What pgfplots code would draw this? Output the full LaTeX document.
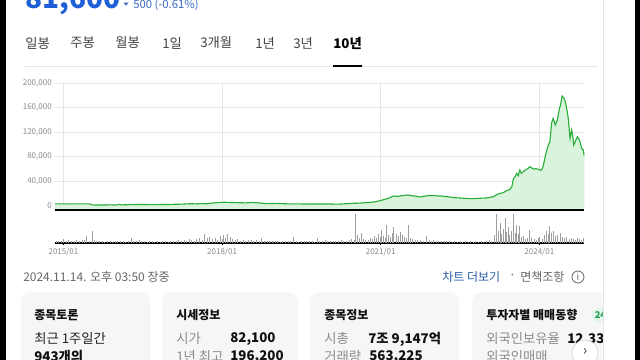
\documentclass[border=0pt]{standalone}
\usepackage{fontspec}
\setmainfont{Noto Sans CJK KR}
\usepackage{pgfplots}
\usepackage{pgfplotstable}
\pgfplotsset{compat=1.18}
\definecolor{numblue}{HTML}{1E5FD8}
\definecolor{chgblue}{HTML}{3B6BC4}
\definecolor{tabgray}{HTML}{444444}
\definecolor{linegreen}{HTML}{2AAE3A}
\definecolor{fillgreen}{HTML}{DAF3DC}
\definecolor{gridgray}{HTML}{E6E6E6}
\definecolor{tickgray}{HTML}{8A8A8A}
\definecolor{volgray}{HTML}{9E9E9E}
\definecolor{baseline}{HTML}{888888}
\definecolor{cardbg}{HTML}{F5F6F8}
\definecolor{dategray}{HTML}{666666}
\definecolor{linkblue}{HTML}{2B5DA6}
\definecolor{labgray}{HTML}{8C8C8C}
\definecolor{dark}{HTML}{111111}
\definecolor{dark2}{HTML}{222222}
\definecolor{badgebg}{HTML}{E2F5E7}
\definecolor{badgefg}{HTML}{1E9E4A}
\definecolor{btnborder}{HTML}{DDDDDD}
\newcommand\fs[1]{\fontsize{#1pt}{#1pt}\selectfont}

\pgfplotstableread{
t v
2014.84 3000
2014.95 3100
2015.10 2900
2015.25 3000
2015.40 3100
2015.50 2900
2015.54 1300
2015.70 1200
2015.90 1300
2016.00 1200
2016.05 1900
2016.10 1400
2016.25 1700
2016.45 2000
2016.65 1800
2016.90 1900
2017.10 2300
2017.25 2600
2017.40 3300
2017.50 3000
2017.60 3500
2017.70 3200
2017.80 4200
2017.95 5400
2018.05 5600
2018.20 5200
2018.35 4900
2018.45 4600
2018.55 5300
2018.65 4800
2018.75 4100
2018.85 3400
2018.95 3600
2019.05 3900
2019.15 3300
2019.30 2900
2019.45 3000
2019.60 2700
2019.75 2900
2019.85 2800
2020.00 2900
2020.15 2600
2020.23 2700
2020.35 3300
2020.48 3900
2020.60 4200
2020.70 5000
2020.80 5400
2020.90 6600
2020.99 8200
2021.08 10500
2021.16 12500
2021.24 15800
2021.32 15200
2021.40 16400
2021.52 17500
2021.60 16200
2021.67 15500
2021.74 14200
2021.82 15600
2021.90 16500
2021.99 16900
2022.08 16000
2022.17 15700
2022.25 14700
2022.35 13800
2022.42 13000
2022.50 12600
2022.60 12000
2022.69 11500
2022.80 11800
2022.90 12300
2023.00 12600
2023.06 13500
2023.13 14700
2023.20 18500
2023.26 20200
2023.32 21500
2023.38 24500
2023.44 26500
2023.48 31100
2023.51 44700
2023.54 47000
2023.57 52800
2023.60 49000
2023.63 58300
2023.66 52800
2023.70 56000
2023.73 58300
2023.78 60500
2023.82 63700
2023.86 61500
2023.89 59900
2023.94 60500
2023.98 59400
2024.02 58000
2024.04 58300
2024.07 63700
2024.11 80000
2024.14 90900
2024.17 99100
2024.20 104500
2024.23 134500
2024.26 142600
2024.28 138000
2024.30 131800
2024.34 139900
2024.38 159000
2024.40 164400
2024.43 179100
2024.47 175300
2024.50 167100
2024.53 152000
2024.55 139900
2024.58 110000
2024.61 123600
2024.63 115000
2024.65 99100
2024.69 107300
2024.72 112700
2024.76 107300
2024.80 93700
2024.83 91000
2024.85 81100
}\pricedata

\pgfplotstableread{
t h
2014.86 1.5
2014.91 2
2014.96 1.5
2015.00 4
2015.05 2
2015.10 2.5
2015.15 1.5
2015.20 2
2015.25 3
2015.30 2
2015.35 2.5
2015.40 3
2015.44 7
2015.49 2
2015.54 12
2015.58 3
2015.63 2
2015.68 1.5
2015.73 2
2015.78 1
2015.83 1.5
2015.88 2
2015.93 1
2015.98 1.5
2016.03 2
2016.08 1.5
2016.13 2
2016.18 1
2016.23 2
2016.28 5
2016.33 2
2016.38 1.5
2016.43 2.5
2016.48 2
2016.53 1.5
2016.58 1
2016.63 2
2016.68 1.5
2016.73 1
2016.78 1.5
2016.83 1
2016.88 2
2016.93 1.5
2016.98 1
2017.03 1.5
2017.08 2
2017.13 1.5
2017.18 2.5
2017.23 2
2017.28 3
2017.33 2
2017.38 4
2017.43 3
2017.48 2
2017.52 4
2017.57 5
2017.62 3
2017.67 9
2017.72 5
2017.77 6
2017.82 4
2017.87 5
2017.91 3
2017.96 7
2018.00 4
2018.03 8
2018.07 5
2018.11 9
2018.15 6
2018.20 4
2018.25 3
2018.30 4
2018.35 2
2018.40 3
2018.45 2
2018.50 2.5
2018.55 3
2018.60 2
2018.65 2.5
2018.70 2
2018.75 5
2018.80 2
2018.85 1.5
2018.90 2
2018.95 1.5
2019.00 2
2019.05 1.5
2019.10 1
2019.15 1.5
2019.20 2
2019.25 1.5
2019.30 2
2019.35 6
2019.40 1.5
2019.45 1
2019.50 1.5
2019.55 2
2019.60 1.5
2019.65 2
2019.70 1.5
2019.75 1
2019.80 5
2019.85 2
2019.90 1.5
2019.95 2.5
2020.00 1.5
2020.05 2
2020.10 1.5
2020.15 2
2020.20 1.5
2020.25 2.5
2020.30 2
2020.35 1.5
2020.40 3
2020.45 4
2020.50 3
2020.53 29
2020.56 8
2020.60 5
2020.64 10
2020.68 4
2020.72 2.5
2020.76 3
2020.80 5
2020.84 4
2020.88 7
2020.92 5
2020.96 9
2021.00 6
2021.02 13
2021.06 7
2021.09 5
2021.11 18
2021.15 8
2021.19 6
2021.22 10
2021.25 16
2021.29 9
2021.33 7
2021.37 11
2021.41 8
2021.45 6
2021.49 5
2021.52 18
2021.56 5
2021.60 4
2021.65 3
2021.70 2.5
2021.75 3
2021.80 2
2021.87 7
2021.92 3
2021.96 2
2022.00 3
2022.05 2
2022.10 1.5
2022.15 2
2022.20 1.5
2022.25 2
2022.30 1.5
2022.35 1
2022.40 1.5
2022.45 1
2022.50 1.5
2022.55 1
2022.60 1.5
2022.65 1
2022.70 1.5
2022.75 1
2022.80 1.5
2022.85 1
2022.90 1.5
2022.95 1
2023.00 2
2023.05 3
2023.10 2
2023.15 8
2023.19 29
2023.22 12
2023.26 20
2023.29 9
2023.32 14
2023.35 25
2023.38 11
2023.41 16
2023.44 8
2023.47 12
2023.51 29
2023.54 10
2023.57 18
2023.60 9
2023.62 17
2023.66 6
2023.70 7
2023.74 4
2023.78 5
2023.82 13
2023.86 5
2023.90 4
2023.94 3
2023.98 5
2024.01 6
2024.05 4
2024.09 8
2024.14 12
2024.17 9
2024.20 17
2024.23 10
2024.26 12
2024.30 7
2024.34 8
2024.39 10
2024.43 6
2024.47 5
2024.52 6
2024.56 4
2024.60 5
2024.64 4
2024.68 3
2024.72 5
2024.76 4
2024.80 3
2024.84 5
}\voldata

\begin{document}
\begin{tikzpicture}
\begin{scope}[x=0.75pt,y=0.75pt]
\fill[white] (0,0) rectangle (640,360);
\fill[black] (0,0) rectangle (6,360);
\fill[black] (635,0) rectangle (640,360);
\draw[gridgray, line width=0.6pt] (603,0) -- (603,360);
\end{scope}

% price chart
\begin{axis}[
  at={(41.25pt,112.5pt)}, anchor=south west,
  scale only axis, width=396.98pt, height=95pt,
  xmin=2014.84, xmax=2024.85, ymin=-7000, ymax=200000,
  axis line style={draw=none},
  tick style={draw=none},
  scaled y ticks=false,
  xtick={2015,2018,2021,2024}, xticklabels={},
  ytick={0,40000,80000,120000,160000,200000},
  yticklabels={0,{40,000},{80,000},{120,000},{160,000},{200,000}},
  yticklabel style={font=\fs{6}, text=tickgray, inner sep=0pt, xshift=-2.25pt},
  xmajorgrids, ymajorgrids,
  major grid style={draw=gridgray, line width=0.6pt},
]
\addplot[fill=fillgreen, draw=none] table[x=t,y=v] {\pricedata}
  -- (axis cs:2024.85,-7000) -- (axis cs:2014.84,-7000) -- cycle;
\addplot[draw=linegreen, line width=0.85pt] table[x=t,y=v] {\pricedata};
\end{axis}

% volume chart
\begin{axis}[
  at={(41.25pt,87.75pt)}, anchor=south west,
  scale only axis, width=396.98pt, height=22.5pt,
  xmin=2014.84, xmax=2024.85, ymin=0, ymax=30,
  axis x line=bottom, axis y line=none,
  axis line style={-, black, line width=0.9pt},
  xtick={2015,2018,2021,2024},
  xticklabels={2015/01,2018/01,2021/01,2024/01},
  xtick align=center, major tick length=3.75pt,
  tick style={black, line width=0.75pt},
  xticklabel style={font=\fs{6}, text=tickgray, inner sep=0pt, yshift=-2pt},
  ytick=\empty,
]
\addplot[ycomb, draw=volgray, line width=0.7pt] table[x=t,y=h] {\voldata};
\end{axis}

\begin{scope}[x=0.75pt,y=0.75pt]
\draw[baseline, line width=1.2pt] (55,150) -- (584.3,150);

% header
\node[anchor=base west, inner sep=0pt, text=numblue, font=\bfseries\fs{21}] at (25,351.7) {81,600};
\fill[chgblue] (123.5,357.3) -- (128.5,357.3) -- (126,354.3) -- cycle;
\node[anchor=base west, inner sep=0pt, text=chgblue, font=\fs{8.5}] at (133,351) {500 (-0.61\%)};

% tabs
\foreach \xx/\tt in {25/일봉, 70/주봉, 115/월봉, 162/1일, 200/3개월, 255/1년, 293/3년}
  \node[anchor=west, inner sep=0pt, text=tabgray, font=\fs{10}] at (\xx,317) {\tt};
\node[anchor=west, inner sep=0pt, text=black, font=\bfseries\fs{10}] at (333,317) {10년};
\draw[gridgray, line width=0.6pt] (25,294) -- (598,294);
\draw[black, line width=1.5pt] (333,294) -- (362,294);

% date line
\node[anchor=west, inner sep=0pt, text=dategray, font=\fs{9}] at (23,83) {2024.11.14. 오후 03:50 장중};
\node[anchor=west, inner sep=0pt, text=linkblue, font=\fs{9}] at (442,83) {차트 더보기};
\node[inner sep=0pt, text=dategray, font=\fs{9}] at (512.5,83) {·};
\node[anchor=west, inner sep=0pt, text=dategray, font=\fs{9}] at (520,83) {면책조항};
\draw[dategray, line width=0.6pt] (578,83) circle (6);
\node[inner sep=0pt, text=dategray, font=\fs{7}] at (578,83) {i};

% cards
\begin{scope}
\clip (0,0) rectangle (602.5,360);
\fill[cardbg, rounded corners=7.5pt] (21,-20) rectangle (150,68);
\fill[cardbg, rounded corners=7.5pt] (162,-20) rectangle (298,68);
\fill[cardbg, rounded corners=7.5pt] (310,-20) rectangle (459,68);
\fill[cardbg, rounded corners=7.5pt] (472,-20) rectangle (640,68);
\fill[badgebg, rounded corners=5pt] (592,38) rectangle (614,52);
\node[anchor=west, inner sep=0pt, text=badgefg, font=\bfseries\fs{7}] at (594.5,45) {24};

\foreach \xx/\tt in {34/종목토론, 176/시세정보, 324/종목정보, 486/투자자별 매매동향}
  \node[anchor=west, inner sep=0pt, text=dark, font=\bfseries\fs{9}] at (\xx,45) {\tt};

\node[anchor=west, inner sep=0pt, text=dark2, font=\fs{10}] at (34,21) {최근 1주일간};
\node[anchor=west, inner sep=0pt, text=dark, font=\bfseries\fs{10}] at (34,3) {943개의};

\node[anchor=west, inner sep=0pt, text=labgray, font=\fs{10}] at (176,21) {시가};
\node[anchor=west, inner sep=0pt, text=dark, font=\bfseries\fs{10}] at (230,21) {82,100};
\node[anchor=west, inner sep=0pt, text=labgray, font=\fs{10}] at (176,3) {1년 최고};
\node[anchor=west, inner sep=0pt, text=dark, font=\bfseries\fs{10}] at (230,3) {196,200};

\node[anchor=west, inner sep=0pt, text=labgray, font=\fs{10}] at (324,21) {시총};
\node[anchor=west, inner sep=0pt, text=dark, font=\bfseries\fs{10}] at (368,21) {7조 9,147억};
\node[anchor=west, inner sep=0pt, text=labgray, font=\fs{10}] at (324,3) {거래량};
\node[anchor=west, inner sep=0pt, text=dark, font=\bfseries\fs{10}] at (369,3) {563,225};

\node[anchor=west, inner sep=0pt, text=labgray, font=\fs{10}] at (486,21) {외국인보유율};
\node[anchor=west, inner sep=0pt, text=dark, font=\bfseries\fs{10}] at (567,21) {12.33\%};
\node[anchor=west, inner sep=0pt, text=labgray, font=\fs{10}] at (486,3) {외국인매매};
\fill[white, draw=btnborder, line width=0.6pt] (585,7) circle (13);
\node[inner sep=0pt, text=tabgray, font=\fs{11}] at (585,8) {›};
\end{scope}
\end{scope}
\pgfresetboundingbox
\useasboundingbox (0,0) rectangle (480pt,270pt);
\end{tikzpicture}
\end{document}
